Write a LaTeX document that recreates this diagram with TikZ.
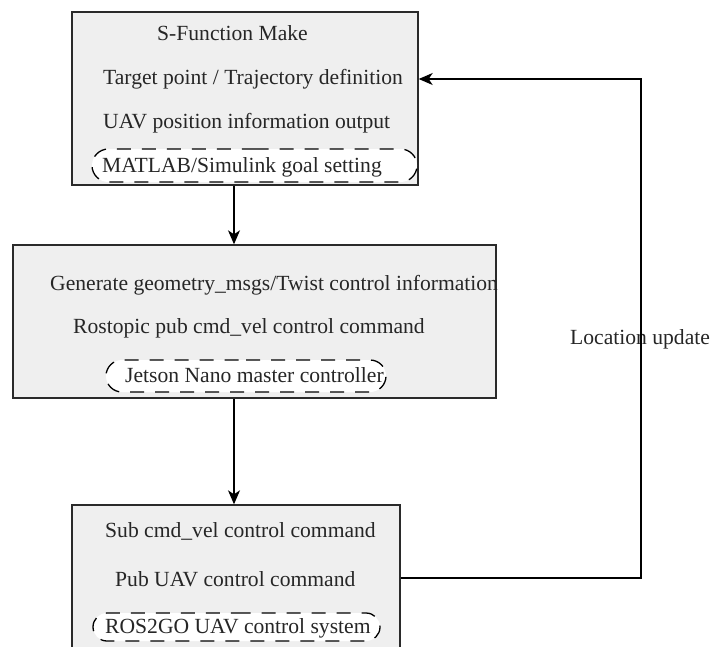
\documentclass[tikz,border=0pt]{standalone}
\usepackage{fontspec}
\setmainfont{Liberation Serif}
\usetikzlibrary{arrows.meta,shapes.misc}
\definecolor{boxfill}{HTML}{EFEFEF}
\definecolor{boxline}{HTML}{2A2A2A}
\tikzset{
  panel/.style={draw=boxline,line width=1.4pt,fill=boxfill,rectangle,inner sep=0pt},
  pill/.style={draw=black,line width=1.3pt,fill=white,rounded rectangle,inner sep=0pt,
    dash pattern=on 14pt off 11pt},
  txt/.style={anchor=west,inner sep=0pt,font=\fontsize{21.6}{24}\selectfont,text=black!85},
  arr/.style={line width=1.3pt,-{Stealth[length=14pt,width=12pt,inset=4pt]}}
}
\begin{document}
\begin{tikzpicture}[x=1pt,y=-1pt]
\useasboundingbox (0,0) rectangle (710,646);
% panels
\node[panel,minimum width=346pt,minimum height=173pt] (box1) at (245,98.5) {};
\node[panel,minimum width=483pt,minimum height=153pt] (box2) at (254.5,321.5) {};
\node[panel,minimum width=328pt,minimum height=155pt] (box3) at (236,582.5) {};
% pills
\node[pill,minimum width=325pt,minimum height=33pt] (pill1) at (254.5,165.5) {};
\node[pill,minimum width=280pt,minimum height=32pt] (pill2) at (246,376) {};
\node[pill,minimum width=287pt,minimum height=28pt] (pill3) at (236.5,627) {};
% texts box 1
\node[txt] (t1a) at (157,33) {S-Function Make};
\node[txt] (t1b) at (103,79) {Target point / Trajectory definition};
\node[txt] (t1c) at (103,123) {UAV position information output};
\node[txt] (t1d) at (102,167) {MATLAB/Simulink goal setting};
% texts box 2
\node[txt] (t2a) at (50,285) {Generate geometry\_msgs/Twist control information};
\node[txt] (t2b) at (73,328) {Rostopic pub cmd\_vel control command};
\node[txt] (t2c) at (125,375) {Jetson Nano master controller};
% texts box 3
\node[txt] (t3a) at (105,531) {Sub cmd\_vel control command};
\node[txt] (t3b) at (115,579) {Pub UAV control command};
\node[txt] (t3c) at (105,628) {ROS2GO UAV control system};
% feedback label
\node[txt] (loc) at (570,339) {Location update};
% connectors
\coordinate (cx) at (234,0);
\coordinate (rc) at (641,79);
\coordinate (fy) at (0,578);
\draw[arr] (box1.south -| cx) -- (box2.north -| cx);
\draw[arr] (box2.south -| cx) -- (box3.north -| cx);
\draw[arr] (box3.east |- fy) -| (rc) -- (box1.east |- rc);
\end{tikzpicture}
\end{document}
